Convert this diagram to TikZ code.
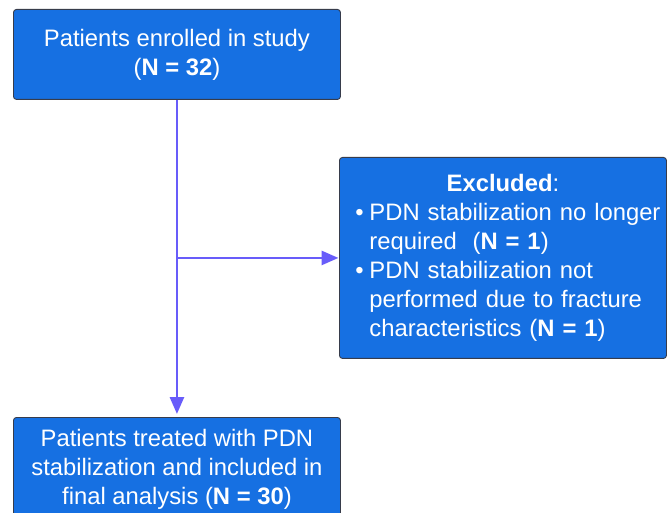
\documentclass[tikz,border=0pt]{standalone}
\usepackage{fontspec}
\setmainfont{Liberation Sans}
\usetikzlibrary{arrows.meta}
\definecolor{boxblue}{RGB}{22,112,226}
\definecolor{boxedge}{RGB}{55,60,75}
\definecolor{linecol}{RGB}{104,92,250}
\newcommand{\bulitem}[1]{\par\hangindent=24pt\hangafter=1\noindent\hspace*{10pt}\makebox[14pt][l]{•}#1\par}
\begin{document}
\begin{tikzpicture}[x=1pt,y=-1pt,
  box/.style={draw=boxedge, line width=0.9pt, fill=boxblue, rounded corners=3pt,
    text=white, font=\fontsize{23.8}{29}\selectfont, minimum width=327pt, anchor=north west},
  conn/.style={draw=linecol, line width=2.8pt, -{Triangle[length=17pt,width=14pt]}}]
\useasboundingbox (0,0) rectangle (670,513);
\clip (0,0) rectangle (670,513);
\node[box, minimum height=201pt, inner xsep=6pt, text width=315pt] (excl) at (339,157)
  {{\centering\textbf{Excluded}:\par}
   \rightskip=0pt plus 1fil \hfuzz=20pt
   \bulitem{\mbox{PDN stabilization no longer}\newline \mbox{required~~(\textbf{N = 1})}}
   \bulitem{\mbox{PDN stabilization not}\newline \mbox{performed due to fracture}\newline \mbox{characteristics (\textbf{N = 1})}}};
\node[box, minimum height=90pt, align=center] (enrol) at (13,9)
  {Patients enrolled in study\\(\textbf{N = 32})};
\node[box, inner ysep=12pt, align=center] (treated) at (13,417)
  {Patients treated with PDN\\stabilization and included in\\final analysis (\textbf{N = 30})};
\draw[conn, shorten >=3pt] (enrol.south) -- (treated.north);
\coordinate (junc) at (enrol.south |- excl.west);
\draw[conn, shorten >=0.5pt] (junc) -- (excl.west);
\end{tikzpicture}
\end{document}
